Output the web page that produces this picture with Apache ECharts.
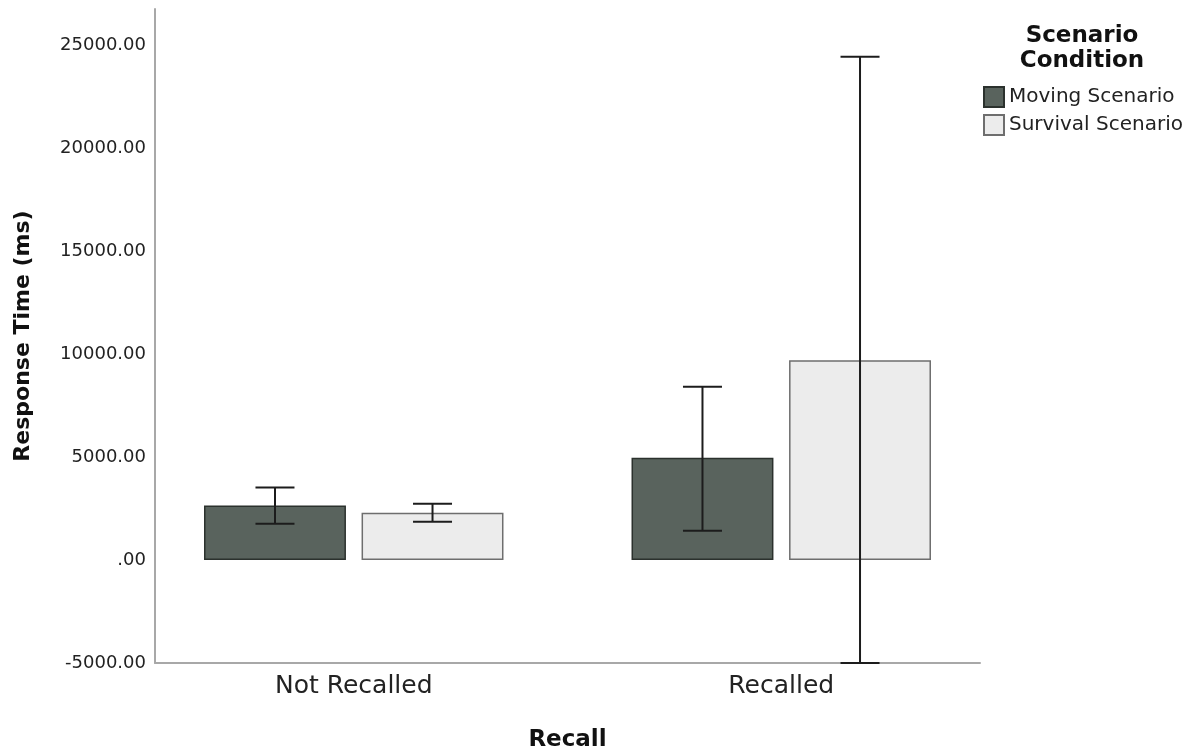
<!DOCTYPE html>
<html>
<head>
<meta charset="utf-8">
<script src="https://cdn.jsdelivr.net/npm/echarts@6/dist/echarts.min.js"></script>
<style>
html,body{margin:0;padding:0;background:#fff;}
#chart{width:1193px;height:754px;}
</style>
</head>
<body>
<div id="chart"></div>
<script>
const categories = ['Not Recalled', 'Recalled'];
const seriesNames = ['Moving Scenario', 'Survival Scenario'];
const movingMean = [2646, 4961];
const survivalMean = [2291, 9699];
const movingLow = [1757, 1417];
const movingHigh = [3519, 8408];
const survivalLow = [1854, -5000];
const survivalHigh = [2728, 24427];
const yTicks = [-5000, 0, 5000, 10000, 15000, 20000, 25000];

const Y_MIN = -5000, Y_MAX = 26750, Y_INT = 5000;
const BAR_FRAC = 0.332, GAP_FRAC = 0.11;
const OFFSET_FRAC = BAR_FRAC * (1 + GAP_FRAC) / 2;
const CAP_HALF = 19.5;
const FONT = 'DejaVu Sans, Verdana, sans-serif';

function fmt(v){
  if (v === 0) return '.00';
  return v.toFixed(2);
}

function errorSeries(name, lows, highs, sign){
  return {
    type: 'custom',
    name: name + ' CI',
    xAxisIndex: 1, yAxisIndex: 1,
    z: 10,
    silent: true,
    encode: { x: 0, y: [1, 2] },
    data: categories.map((c, i) => [i, lows[i], highs[i]]),
    renderItem: function(params, api){
      const band = api.size([1, 0])[0];
      const off = sign * band * OFFSET_FRAC;
      const pLo = api.coord([api.value(0), api.value(1)]);
      const pHi = api.coord([api.value(0), api.value(2)]);
      const x = pLo[0] + off;
      const st = { stroke: '#1c1c1c', lineWidth: 2 };
      return {
        type: 'group',
        children: [
          { type: 'line', shape: { x1: x, y1: pLo[1], x2: x, y2: pHi[1] }, style: st },
          { type: 'line', shape: { x1: x - CAP_HALF, y1: pLo[1], x2: x + CAP_HALF, y2: pLo[1] }, style: st },
          { type: 'line', shape: { x1: x - CAP_HALF, y1: pHi[1], x2: x + CAP_HALF, y2: pHi[1] }, style: st }
        ]
      };
    }
  };
}

const chart = echarts.init(document.getElementById('chart'), null, { renderer: 'canvas' });
chart.setOption({
  animation: false,
  backgroundColor: '#ffffff',
  textStyle: { fontFamily: FONT },
  title: {
    text: 'Scenario\nCondition',
    left: 1077,
    top: 19,
    textAlign: 'center',
    textStyle: { fontFamily: FONT, fontSize: 23, fontWeight: 'bold', color: '#111', lineHeight: 25 }
  },
  legend: {
    orient: 'vertical',
    left: 978,
    top: 81,
    itemWidth: 20,
    itemHeight: 20,
    itemGap: 6,
    icon: 'rect',
    data: seriesNames,
    textStyle: { fontFamily: FONT, fontSize: 20, color: '#222' }
  },
  grid: [
    { left: 155, right: 213, top: 9, bottom: 91, containLabel: false, outerBoundsMode: 'none' },
    { left: 140, right: 198, top: 9, bottom: 91, containLabel: false, outerBoundsMode: 'none' }
  ],
  xAxis: [
    {
      gridIndex: 0,
      type: 'value',
      min: 0, max: 1,
      axisLine: { show: true, onZero: false, lineStyle: { color: '#a8a8a8', width: 2 } },
      axisTick: { show: false },
      axisLabel: { show: false },
      splitLine: { show: false },
      name: 'Recall',
      nameLocation: 'middle',
      nameGap: 66,
      nameTextStyle: { fontFamily: FONT, fontSize: 23, fontWeight: 'bold', color: '#111' }
    },
    {
      gridIndex: 1,
      type: 'category',
      data: categories,
      axisLine: { show: false },
      axisTick: { show: false },
      axisLabel: { fontFamily: FONT, fontSize: 25, color: '#222', margin: 11 }
    }
  ],
  yAxis: [
    {
      gridIndex: 0,
      type: 'value',
      min: Y_MIN, max: Y_MAX, interval: Y_INT,
      axisLine: { show: true, lineStyle: { color: '#a8a8a8', width: 2 } },
      axisTick: { show: false },
      splitLine: { show: false },
      axisLabel: {
        fontFamily: FONT, fontSize: 18, color: '#222', margin: 9,
        showMaxLabel: false,
        formatter: function(v){ return yTicks.indexOf(v) >= 0 ? fmt(v) : ''; }
      },
      name: 'Response Time (ms)',
      nameLocation: 'middle',
      nameGap: 121,
      nameTextStyle: { fontFamily: FONT, fontSize: 22, fontWeight: 'bold', color: '#111' }
    },
    {
      gridIndex: 1,
      type: 'value',
      min: Y_MIN, max: Y_MAX, interval: Y_INT,
      show: false,
      splitLine: { show: false }
    }
  ],
  series: [
    {
      type: 'bar',
      name: seriesNames[0],
      xAxisIndex: 1, yAxisIndex: 1,
      data: movingMean,
      barWidth: (BAR_FRAC * 100) + '%',
      barGap: (GAP_FRAC * 100) + '%',
      itemStyle: { color: '#59635d', borderColor: '#2b312d', borderWidth: 1.5 }
    },
    {
      type: 'bar',
      name: seriesNames[1],
      xAxisIndex: 1, yAxisIndex: 1,
      data: survivalMean,
      barWidth: (BAR_FRAC * 100) + '%',
      barGap: (GAP_FRAC * 100) + '%',
      itemStyle: { color: '#ececec', borderColor: '#6e6e6e', borderWidth: 1.5 }
    },
    errorSeries(seriesNames[0], movingLow, movingHigh, -1),
    errorSeries(seriesNames[1], survivalLow, survivalHigh, 1)
  ]
});
</script>
</body>
</html>
